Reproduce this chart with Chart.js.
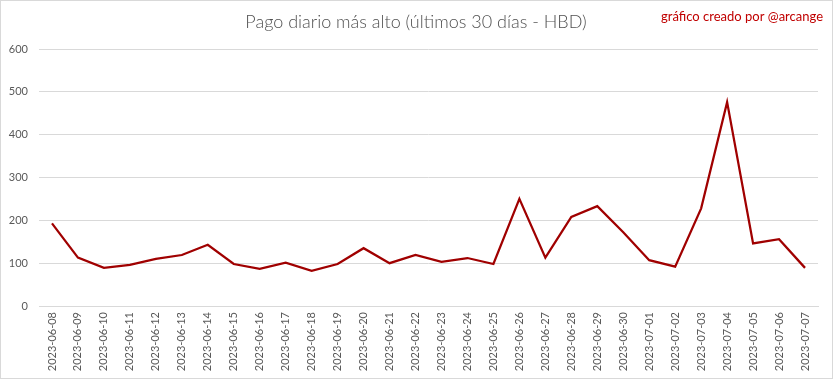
<!DOCTYPE html>
<html lang="es">
<head>
<meta charset="UTF-8">
<title>Pago diario más alto</title>
<script src="https://cdn.jsdelivr.net/npm/chart.js@4.4.0/dist/chart.umd.min.js"></script>
<style>
    body { margin: 0; background: #fff; }
    .box {
        width: 833px;
        height: 379px;
        box-sizing: border-box;
        border: 1px solid #d9d9d9;
        background: #fff;
    }
</style>
</head>
<body>
<div class="box">
    <canvas id="myChart" width="831" height="377"></canvas>
</div>
<script>
    var fechas = ["2023-06-08", "2023-06-09", "2023-06-10", "2023-06-11", "2023-06-12",
        "2023-06-13", "2023-06-14", "2023-06-15", "2023-06-16", "2023-06-17",
        "2023-06-18", "2023-06-19", "2023-06-20", "2023-06-21", "2023-06-22",
        "2023-06-23", "2023-06-24", "2023-06-25", "2023-06-26", "2023-06-27",
        "2023-06-28", "2023-06-29", "2023-06-30", "2023-07-01", "2023-07-02",
        "2023-07-03", "2023-07-04", "2023-07-05", "2023-07-06", "2023-07-07"];
    var pagoMax = [193, 113, 89, 96, 110, 119, 143, 98, 87, 101,
        82, 98, 135, 100, 119, 103, 112, 98, 250, 113,
        208, 233, 172, 107, 92, 228, 476, 146, 156, 89];
    var yTicks = [0, 100, 200, 300, 400, 500, 600];

    var titulo = "Pago diario más alto (últimos 30 días - HBD)";
    var firma = "gráfico creado por @arcange";

    // titles drawn by hand so they sit where the original has them
    var textos = {
        id: "textos",
        afterDraw: function (chart) {
            var c = chart.ctx;
            c.save();
            c.textBaseline = "middle";
            c.fillStyle = "#505050";
            c.font = "300 18px Lato";
            c.textAlign = "center";
            c.fillText(titulo, 415, 21);
            c.fillStyle = "#c00000";
            c.font = "13px Lato";
            c.textAlign = "right";
            c.fillText(firma, 822, 16);
            c.restore();
        }
    };

    var ctx = document.getElementById("myChart").getContext("2d");
    var myChart = new Chart(ctx, {
        type: "line",
        data: {
            labels: fechas,
            datasets: [{
                label: "Pago diario",
                data: pagoMax,
                borderColor: "#a00000",
                borderWidth: 2.25,
                pointRadius: 0,
                tension: 0,
                fill: false
            }]
        },
        options: {
            responsive: false,
            animation: false,
            layout: { padding: { top: 48, right: 14, left: 0, bottom: 0 } },
            plugins: {
                legend: { display: false },
                tooltip: { enabled: false }
            },
            scales: {
                x: {
                    offset: true,
                    grid: { display: false, drawTicks: false },
                    border: { color: "#d9d9d9" },
                    ticks: {
                        color: "#595959",
                        font: { family: "Lato", size: 11 },
                        minRotation: 90,
                        maxRotation: 90,
                        autoSkip: false,
                        padding: 6
                    },
                    afterFit: function (s) { s.height = 72; }
                },
                y: {
                    min: 0,
                    max: 600,
                    afterBuildTicks: function (s) {
                        s.ticks = yTicks.map(function (v) { return { value: v }; });
                    },
                    grid: { color: "#d9d9d9", drawTicks: false },
                    border: { display: false },
                    ticks: {
                        color: "#595959",
                        font: { family: "Lato", size: 11 },
                        padding: 11
                    },
                    afterFit: function (s) { s.width = 38; }
                }
            }
        },
        plugins: [textos]
    });
</script>
</body>
</html>
